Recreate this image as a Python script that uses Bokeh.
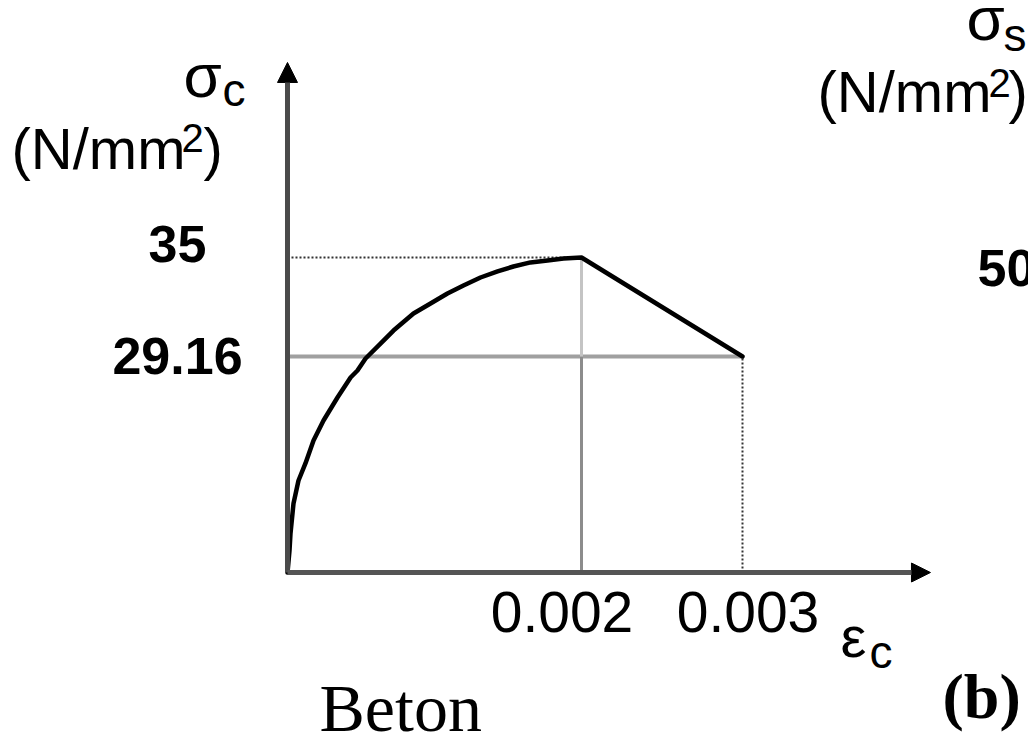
from bokeh.plotting import figure
from bokeh.models import (ColumnDataSource, Range1d, LinearInterpolator, Label,
                          Arrow, NormalHead)
from bokeh.transform import transform
from bokeh.core.properties import value
from bokeh.embed import file_html
from bokeh.resources import INLINE

# ---------------- data ----------------
strain = [0.0, 0.0000136, 0.0000204, 0.0000408, 0.0000748, 0.000122, 0.000177,
          0.000245, 0.000340, 0.000429, 0.000476, 0.000531, 0.000653, 0.000721,
          0.000857, 0.000973, 0.001088, 0.001197, 0.001313, 0.001429, 0.001537,
          0.001653, 0.001769, 0.001878, 0.002, 0.003]
stress = [0.0, 2.97, 5.27, 9.32, 12.42, 14.72, 17.82, 20.52, 23.63, 26.33,
          27.27, 28.89, 30.10, 30.69, 31.70, 32.29, 32.88, 33.35, 33.82, 34.18,
          34.47, 34.71, 34.82, 34.94, 35.0, 29.16]

eps_peak = 0.002     # strain at peak stress
eps_ult = 0.003      # ultimate strain
f_peak = 35.0        # N/mm2
f_ult = 29.16        # N/mm2

y_tick_values = [f_peak, f_ult]
y_tick_labels = ["35", "29.16"]
x_tick_values = [eps_peak, eps_ult]
x_tick_labels = ["0.002", "0.003"]

# ---------------- schematic (not-to-scale) axes of the sketch ----------------
x_interp = LinearInterpolator(x=[-0.01, 0.0, eps_peak, eps_ult, 0.02],
                              y=[-0.01, 0.0, 0.002, 0.0030952, 0.0217143], clip=False)
y_interp = LinearInterpolator(x=[-100.0, 0.0, f_ult, f_peak, 200.0],
                              y=[-100.0, 0.0, 24.0, 35.0, 200.0], clip=False)

W, H = 1028, 737
p = figure(width=W, height=H, output_backend="svg", toolbar_location=None,
           x_range=Range1d(-0.00195238, 0.00504082),
           y_range=Range1d(-18.3333, 63.5556),
           x_axis_type=None, y_axis_type=None, min_border=0,
           outline_line_color=None, background_fill_color="white",
           border_fill_color="white")
p.xgrid.visible = False
p.ygrid.visible = False

# axes with arrow heads
p.add_layout(Arrow(end=NormalHead(size=20, fill_color="black", line_color="black", line_width=1),
                   x_start=0.0, y_start=0.0, x_end=0.0, y_end=56.67,
                   line_width=5, line_color="#4a4a4a"))
p.add_layout(Arrow(end=NormalHead(size=19, fill_color="black", line_color="black", line_width=1),
                   x_start=0.0, y_start=0.0, x_end=0.004374, y_end=0.0,
                   line_width=5, line_color="#555555"))

# reference lines
ref_dotted = ColumnDataSource(dict(x0=[0.0, eps_ult], y0=[f_peak, 0.0],
                                   x1=[eps_peak, eps_ult], y1=[f_peak, f_ult]))
p.segment(x0=transform("x0", x_interp), y0=transform("y0", y_interp),
          x1=transform("x1", x_interp), y1=transform("y1", y_interp),
          source=ref_dotted, line_color="#333333", line_width=2, line_dash="2 2")

ref_gray = ColumnDataSource(dict(x0=[0.0, eps_peak, eps_peak], y0=[f_ult, 0.0, f_ult],
                                 x1=[eps_ult, eps_peak, eps_peak], y1=[f_ult, f_ult, f_peak],
                                 c=["#a0a0a0", "#8c8c8c", "#c4c4c4"],
                                 w=[4, 3, 3]))
p.segment(x0=transform("x0", x_interp), y0=transform("y0", y_interp),
          x1=transform("x1", x_interp), y1=transform("y1", y_interp),
          source=ref_gray, line_color="c", line_width="w")

# stress-strain curve
curve = ColumnDataSource(dict(x=strain, y=stress))
p.line(x=transform("x", x_interp), y=transform("y", y_interp), source=curve,
       line_color="black", line_width=4.5, line_join="round", line_cap="round")

# tick labels
ysrc = ColumnDataSource(dict(x=[0.0, 0.0], y=y_tick_values, t=y_tick_labels, dy=[-14, -1]))
p.text(x=transform("x", x_interp), y=transform("y", y_interp), text="t", source=ysrc,
       x_offset=-110, y_offset="dy", text_align="center", text_baseline="alphabetic",
       text_font=value("Liberation Sans"), text_font_style="bold",
       text_font_size="52px", text_color="black")

xsrc = ColumnDataSource(dict(x=x_tick_values, y=[0.0, 0.0], t=x_tick_labels, dx=[-19.5, 5.5]))
p.text(x=transform("x", x_interp), y=transform("y", y_interp), text="t", source=xsrc,
       x_offset="dx", y_offset=39, text_align="center", text_baseline="alphabetic",
       text_font=value("Liberation Sans"), text_font_size="57px", text_color="black")

# other texts (screen positions)
def lab(text, x, y, size, font="Liberation Sans", style="normal"):
    p.add_layout(Label(x=x, y=y, x_units="screen", y_units="screen", text=text,
                       text_font=font, text_font_size=size, text_font_style=style,
                       text_color="black", text_align="left",
                       text_baseline="alphabetic"))

# left axis title
lab("σ", 183, 662, "62px")
lab("c", 222, 648, "46px")
lab("(N/mm", 11, 589, "58px")
lab("2", 181, 600, "40px")
lab(")", 203, 589, "58px")

# right panel (partially visible)
lab("σ", 966, 719, "62px")
lab("s", 1003, 703, "46px")
lab("(N/mm", 817, 646, "58px")
lab("2", 988, 655, "40px")
lab(")", 1008, 646, "58px")
lab("500", 977, 470, "52px", style="bold")

# strain axis title
lab("ε", 840, 101, "58px")
lab("c", 869, 86, "46px")

lab("Beton", 319, 30, "68px", font="Liberation Serif")
lab("(b)", 942, 41, "64px", font="Liberation Serif", style="bold")

open("out.html", "w").write(file_html(p, INLINE))
